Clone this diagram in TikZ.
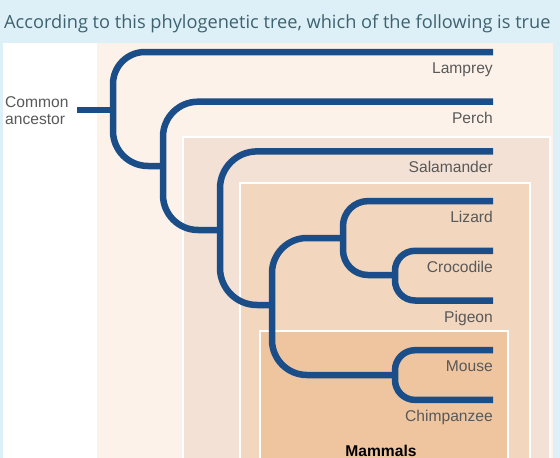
\documentclass[tikz,border=0pt]{standalone}
\usepackage{fontspec}
\setmainfont{Liberation Sans}
\newfontfamily\fuentetitulo{Open Sans}
\usepackage{tikz}
\definecolor{fondo}{HTML}{DDF0F7}
\definecolor{beige}{HTML}{FCF2EA}
\definecolor{cajados}{HTML}{F3E1D5}
\definecolor{cajatres}{HTML}{F2D6BE}
\definecolor{mamif}{HTML}{EEC59F}
\definecolor{azul}{HTML}{1B4E88}
\definecolor{gris}{HTML}{595959}
\definecolor{titulo}{HTML}{3F6270}
\tikzstyle{rama} = [draw=azul, line width=6.5pt]
\tikzstyle{especie} = [text=gris, font=\fontsize{15.6}{17}\selectfont, anchor=base east, inner sep=0pt]
\tikzstyle{caja} = [draw=white, line width=1.5pt]

\begin{document}
\begin{tikzpicture}[x=1pt, y=-1pt]
	\useasboundingbox (0,0) rectangle (560,458);
	\clip (0,0) rectangle (560,458);
	\fill[fondo] (0,0) rectangle (560,458);
	\fill[white] (3,43) rectangle (553,470);
	\fill[beige] (97,43) rectangle (553,470);
	\filldraw[caja, fill=cajados] (183,137) rectangle (550,470);
	\filldraw[caja, fill=cajatres] (240,183) rectangle (530,470);
	\filldraw[caja, fill=mamif] (260,331) rectangle (508,470);
	\node[anchor=base west, text=titulo, inner sep=0pt, font=\fontsize{18.2}{21}\fuentetitulo] (pregunta) at (4,28) {According to this phylogenetic tree, which of the following is true};
	\node[text=gris, font=\fontsize{15.6}{17}\selectfont, align=left, anchor=north west, inner sep=0pt] (ancestro) at (5,96) {Common\\ancestor};
	\node[font=\fontsize{15.6}{17}\selectfont\bfseries, anchor=base, inner sep=0pt] (mamiferos) at (381,456) {Mammals};

	\coordinate (raiz) at (77,110);
	\coordinate (n1) at (113,110);
	\coordinate (n2) at (163,166);
	\coordinate (n3) at (220,230);
	\coordinate (n4) at (272,305);
	\coordinate (n5) at (343,238);
	\coordinate (n6) at (395,275);
	\coordinate (n7) at (395,375);
	\coordinate (lamprey) at (493,52);
	\coordinate (perch) at (493,101.7);
	\coordinate (salamander) at (493,151.4);
	\coordinate (lizard) at (493,201.1);
	\coordinate (crocodile) at (493,250.8);
	\coordinate (pigeon) at (493,300.5);
	\coordinate (mouse) at (493,350.2);
	\coordinate (chimp) at (493,399.9);

	\draw[rama] (raiz) -- (n1);
	\draw[rama, rounded corners=32pt] (n1) |- (lamprey);
	\draw[rama, rounded corners=35pt] (n1) |- (n2);
	\draw[rama, rounded corners=35pt] (n2) |- (perch);
	\draw[rama, rounded corners=35pt] (n2) |- (n3);
	\draw[rama, rounded corners=37pt] (n3) |- (salamander);
	\draw[rama, rounded corners=37pt] (n3) |- (n4);
	\draw[rama, rounded corners=35pt] (n4) |- (n5);
	\draw[rama, rounded corners=35pt] (n4) |- (n7);
	\draw[rama, rounded corners=25pt] (n5) |- (lizard);
	\draw[rama, rounded corners=25pt] (n5) |- (n6);
	\draw[rama, rounded corners=20pt] (n6) |- (crocodile);
	\draw[rama, rounded corners=20pt] (n6) |- (pigeon);
	\draw[rama, rounded corners=20pt] (n7) |- (mouse);
	\draw[rama, rounded corners=20pt] (n7) |- (chimp);

	\node[especie] (tLamprey) at ([yshift=-21.5pt]lamprey) {Lamprey};
	\node[especie] (tPerch) at ([yshift=-21.5pt]perch) {Perch};
	\node[especie] (tSalamander) at ([yshift=-21.5pt]salamander) {Salamander};
	\node[especie] (tLizard) at ([yshift=-21.5pt]lizard) {Lizard};
	\node[especie] (tCrocodile) at ([yshift=-21.5pt]crocodile) {Crocodile};
	\node[especie] (tPigeon) at ([yshift=-21.5pt]pigeon) {Pigeon};
	\node[especie] (tMouse) at ([yshift=-21.5pt]mouse) {Mouse};
	\node[especie] (tChimp) at ([yshift=-21.5pt]chimp) {Chimpanzee};
\end{tikzpicture}
\end{document}
